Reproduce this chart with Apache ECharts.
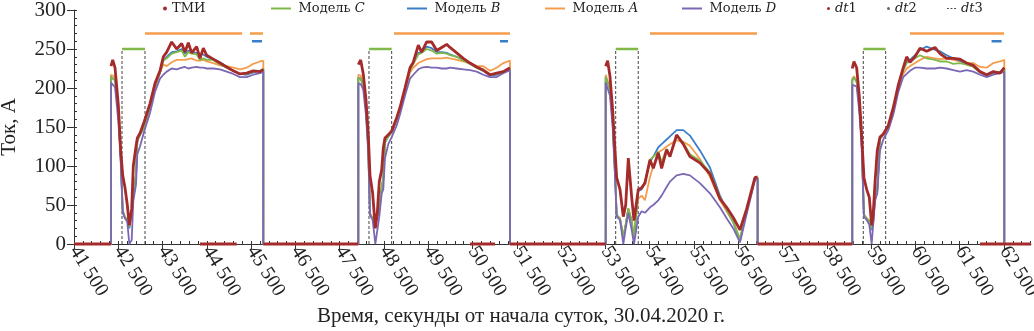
<!DOCTYPE html>
<html lang="ru">
<head>
<meta charset="UTF-8">
<title>Ток, А</title>
<script src="https://cdn.jsdelivr.net/npm/echarts@6/dist/echarts.min.js"></script>
<style>
    html, body { margin: 0; padding: 0; background: #fff; }
    #charts { width: 1034px; height: 331px; }
</style>
</head>
<body>
<div id="charts"></div>
<script>
    // время, с от начала суток (только внутри сеансов)
    var time = [
        42335, 42374, 42426, 42501, 42555, 42600, 42652, 42704, 42749, 42803, 42839, 42900, 42930, 42990, 43087, 43216, 43329, 43442, 43517, 43593,
        43706, 43819, 43932, 44006, 44081, 44157, 44270, 44345, 44420, 44496, 44646, 44797, 44948, 45098, 45248, 45399, 45549, 45700, 45775,
        47920, 47974, 48032, 48093, 48145, 48184, 48244, 48304, 48349, 48394, 48448, 48484, 48522, 48597, 48674, 48787, 48861, 48974, 49087, 49162,
        49275, 49350, 49464, 49577, 49690, 49803, 49916, 49990, 50141, 50291, 50442, 50593, 50742, 50893, 51044, 51194, 51345,
        53506, 53550, 53603, 53663, 53716, 53754, 53829, 53904, 53958, 54017, 54093, 54145, 54242, 54318, 54393, 54506, 54581, 54694, 54769, 54882,
        54957, 55108, 55258, 55408, 55634, 55860, 56086, 56237, 56387, 56538, 56689, 56876, 56937,
        59074, 59112, 59173, 59232, 59286, 59338, 59399, 59458, 59512, 59548, 59587, 59639, 59700, 59775, 59888, 60001, 60114, 60226, 60302, 60377,
        60490, 60603, 60754, 60942, 61055, 61205, 61356, 61506, 61657, 61807, 61958, 62109, 62259, 62410, 62507
    ];
    var tmi = [
        228, 236, 226, 178, 120, 88, 72, 50, 24, 45, 100, 125, 136, 142, 157, 180, 206, 222, 240, 246,
        259, 250, 257, 246, 258, 245, 253, 238, 251, 242, 237, 232, 227, 222, 218, 219, 222, 221, 224,
        230, 236, 218, 185, 140, 88, 65, 20, 40, 80, 95, 123, 136, 140, 145, 162, 175, 200, 226, 233,
        255, 246, 259, 259, 248, 252, 256, 252, 245, 238, 232, 227, 223, 217, 219, 221, 226,
        228, 235, 215, 172, 120, 85, 70, 35, 50, 110, 60, 30, 70, 72, 78, 108, 97, 117, 97, 121,
        112, 140, 128, 112, 104, 90, 58, 47, 34, 18, 45, 85, 86,
        225, 234, 226, 190, 140, 85, 70, 60, 24, 40, 78, 120, 137, 141, 152, 175, 204, 226, 240, 233,
        240, 251, 247, 252, 244, 238, 238, 237, 232, 229, 221, 217, 221, 219, 226
    ];
    var modelA = [
        217, 218, 214, 172, 112, 45, 34, 32, 22, 40, 62, 88, 135, 140, 152, 175, 200, 220, 230, 228,
        233, 236, 236, 236, 237, 238, 235, 235, 236, 234, 232, 229, 228, 226, 224, 226, 231, 234, 235,
        217, 216, 205, 175, 125, 40, 33, 25, 35, 45, 72, 85, 132, 139, 144, 160, 172, 196, 220, 226,
        232, 234, 237, 238, 238, 238, 239, 238, 236, 234, 232, 228, 228, 222, 226, 232, 235,
        217, 216, 200, 160, 95, 38, 33, 10, 25, 45, 30, 8, 58, 62, 56, 86, 100, 118, 120, 125,
        128, 133, 131, 126, 109, 86, 56, 42, 28, 6, 42, 84, 85,
        212, 215, 210, 180, 132, 38, 33, 30, 20, 30, 60, 70, 136, 140, 150, 170, 198, 218, 225, 228,
        232, 236, 240, 238, 237, 238, 236, 234, 232, 232, 227, 226, 232, 234, 236
    ];
    var modelB = [
        214, 215, 210, 170, 110, 42, 33, 31, 20, 40, 62, 88, 132, 140, 150, 176, 202, 220, 236, 240,
        246, 247, 250, 244, 248, 246, 245, 243, 243, 240, 237, 233, 227, 222, 218, 217, 220, 222, 224,
        213, 212, 203, 173, 122, 38, 32, 24, 35, 44, 72, 84, 130, 138, 143, 160, 174, 199, 224, 232,
        245, 246, 253, 251, 246, 246, 245, 243, 240, 236, 231, 226, 222, 216, 217, 220, 223,
        214, 213, 198, 158, 92, 36, 32, 8, 24, 45, 28, 6, 68, 70, 80, 105, 112, 124, 128, 134,
        138, 146, 146, 139, 120, 98, 62, 44, 28, 4, 43, 83, 84,
        210, 213, 208, 178, 131, 36, 32, 29, 18, 28, 58, 68, 135, 140, 151, 173, 202, 224, 233, 236,
        242, 249, 253, 249, 247, 242, 238, 235, 231, 228, 220, 216, 219, 220, 224
    ];
    var modelC = [
        214, 215, 210, 170, 110, 42, 34, 32, 22, 40, 63, 90, 133, 140, 150, 176, 202, 220, 235, 238,
        244, 246, 248, 240, 246, 244, 243, 236, 238, 236, 236, 230, 226, 222, 218, 218, 221, 222, 224,
        213, 212, 203, 173, 122, 38, 33, 25, 36, 45, 73, 85, 130, 138, 143, 160, 174, 199, 223, 231,
        243, 245, 250, 248, 244, 245, 244, 242, 240, 235, 231, 226, 222, 217, 218, 220, 224,
        214, 213, 198, 158, 92, 36, 33, 10, 25, 46, 30, 8, 70, 72, 80, 108, 112, 118, 105, 122,
        112, 138, 130, 115, 107, 92, 60, 44, 28, 6, 44, 84, 85,
        210, 213, 208, 178, 131, 37, 33, 30, 20, 30, 60, 70, 135, 140, 151, 173, 202, 223, 232, 234,
        238, 242, 238, 236, 234, 234, 231, 232, 230, 227, 220, 217, 220, 221, 224
    ];
    var modelD = [
        207, 208, 201, 158, 105, 40, 33, 28, 0, 5, 55, 76, 115, 125, 145, 168, 195, 212, 217, 221,
        225, 224, 226, 227, 225, 226, 227, 226, 226, 225, 225, 224, 221, 218, 214, 214, 217, 219, 221,
        206, 205, 198, 165, 118, 37, 31, 0, 2, 35, 65, 70, 110, 128, 137, 152, 166, 190, 212, 217,
        224, 226, 227, 226, 226, 225, 225, 226, 225, 224, 223, 221, 217, 214, 214, 219, 223,
        207, 206, 190, 150, 88, 35, 31, 0, 20, 40, 18, 0, 35, 42, 40, 47, 50, 56, 62, 73,
        80, 88, 90, 88, 78, 65, 47, 33, 20, 2, 38, 82, 84,
        204, 206, 202, 170, 125, 35, 31, 25, 0, 0, 55, 65, 120, 134, 146, 166, 195, 214, 218, 222,
        226, 226, 225, 225, 226, 225, 223, 221, 223, 221, 217, 214, 217, 219, 221
    ];

    // начало и конец сеансов
    var riseTimes = [42335, 47920, 53506, 59074];
    var fallTimes = [45775, 51345, 56937, 62507];

    // интервалы (отметки сверху и пунктиры)
    var windowC = [[42584, 43103], [48161, 48673], [53732, 54241], [59323, 59828]];
    var windowA = [[43103, 45296], [45474, 45768], [48726, 51345], [54506, 56922], [60377, 62500]];
    var windowB = [[45520, 45745], [51120, 51300], [62220, 62446]];
    var dt1Marks = [[44345, 45173], [50442, 51006], [61958, 62507]];
    var levelC = 250, levelA = 270, levelB = 260;

    var xMin = 41500, xMax = 63110;

    var font = 'Liberation Serif';
    var legendFont = 'DejaVu Serif';
    var colorTmi = '#a52b2b', colorA = '#f59d4c', colorB = '#3b7ec8', colorC = '#80b94a', colorD = '#7b67b5';

    function modelSeriesData(vals) {
        var out = [[xMin, 0]];
        riseTimes.forEach(function (r, k) {
            out.push([r, 0]);
            time.forEach(function (t, i) {
                if (t >= r && t <= fallTimes[k]) out.push([t, vals[i]]);
            });
            out.push([fallTimes[k], 0]);
        });
        out.push([xMax, 0]);
        return out;
    }

    // у ТМИ нет вертикальных перепадов
    function tmiSeriesData(vals) {
        var out = [[xMin, 0]];
        riseTimes.forEach(function (r, k) {
            out.push([r, 0], [r, '-']);
            time.forEach(function (t, i) {
                if (t >= r && t <= fallTimes[k]) out.push([t, vals[i]]);
            });
            out.push([fallTimes[k], '-'], [fallTimes[k], 0]);
        });
        out.push([xMax, 0]);
        return out;
    }

    function barData(list, level) {
        var out = [];
        list.forEach(function (w) {
            out.push([w[0], level], [w[1], level], [w[1], '-']);
        });
        return out;
    }

    function edgeData(list, level) {
        var out = [];
        list.forEach(function (w) {
            out.push([w[0], 0], [w[0], level], [w[0], '-'], [w[1], 0], [w[1], level], [w[1], '-']);
        });
        return out;
    }

    var majorX = [];
    for (var v = xMin; v <= 62500; v += 1000) majorX.push(v);
    var minorX = [];
    for (var m = xMin; m <= xMax; m += 200) minorX.push(m);
    var minorY = [];
    for (var n = 0; n <= 300; n += 10) minorY.push(n);

    function line(name, data, color, width, z, extra) {
        var s = {
            name: name, type: 'line', data: data, symbol: 'none', clip: false, z: z,
            lineStyle: { color: color, width: width }, itemStyle: { color: color },
            connectNulls: false, animation: false
        };
        for (var key in extra) s[key] = extra[key];
        return s;
    }

    var legendText = {
        fontFamily: legendFont, fontSize: 13, color: '#222',
        rich: { i: { fontFamily: legendFont, fontSize: 13, fontStyle: 'italic', color: '#222' } }
    };
    function legendLabel(name) {
        if (name.indexOf('Модель ') === 0) return 'Модель {i|' + name.slice(7) + '}';
        if (name.indexOf('dt') === 0) return '{i|dt}' + name.slice(2);
        return name;
    }
    function legendItem(name, left, w, h, icon) {
        return {
            top: 2, left: left, padding: 0, itemWidth: w, itemHeight: h, selectedMode: false,
            data: [{ name: name, icon: icon }], textStyle: legendText, formatter: legendLabel
        };
    }
    var lineIcon = 'path://M0,0H10V1H0Z';
    var dashIcon = 'path://M0,0H2V1H0ZM4,0H6V1H4ZM8,0H10V1H8Z';

    var option = {
        backgroundColor: '#fff',
        animation: false,
        grid: { left: 74, right: 3, top: 10, bottom: 87, outerBoundsMode: 'none', containLabel: false },
        legend: [
            legendItem('ТМИ', 163, 4, 4, 'circle'),
            legendItem('Модель C', 271, 25, 2, lineIcon),
            legendItem('Модель B', 407, 25, 2, lineIcon),
            legendItem('Модель A', 545, 25, 2, lineIcon),
            legendItem('Модель D', 682, 25, 2, lineIcon),
            legendItem('dt1', 827, 3, 3, 'circle'),
            legendItem('dt2', 887, 3, 3, 'circle'),
            legendItem('dt3', 947, 9, 1.5, dashIcon)
        ],
        xAxis: [{
            type: 'value', min: xMin, max: xMax, position: 'bottom',
            axisLine: { onZero: false, lineStyle: { color: '#333', width: 1 } },
            axisTick: { customValues: majorX, length: 5, lineStyle: { color: '#333' } },
            axisLabel: {
                customValues: majorX, rotate: -58, margin: 4,
                fontFamily: font, fontSize: 20, color: '#222',
                formatter: function (val) {
                    var s = String(val);
                    return s.slice(0, -3) + ' ' + s.slice(-3);
                }
            },
            splitLine: { show: false }
        }, {
            type: 'value', min: xMin, max: xMax, position: 'bottom',
            axisLine: { show: false, onZero: false },
            axisTick: { customValues: minorX, inside: true, length: 3, lineStyle: { color: '#333' } },
            axisLabel: { show: false },
            splitLine: { show: false }
        }],
        yAxis: [{
            type: 'value', min: 0, max: 300, interval: 50, position: 'left',
            name: 'Ток, А', nameLocation: 'middle', nameGap: 54,
            nameTextStyle: { fontFamily: font, fontSize: 21, color: '#222' },
            axisLine: { show: true, onZero: false, lineStyle: { color: '#333', width: 1 } },
            axisTick: { show: true, length: 7, lineStyle: { color: '#333' } },
            axisLabel: { margin: 8, fontFamily: font, fontSize: 21, color: '#222' },
            splitLine: { show: false }
        }, {
            type: 'value', min: 0, max: 300, position: 'left',
            axisLine: { show: false, onZero: false },
            axisTick: { customValues: minorY, inside: true, length: 3, lineStyle: { color: '#333' } },
            axisLabel: { show: false },
            splitLine: { show: false }
        }],
        graphic: [{
            type: 'text', x: 521, y: 316,
            style: {
                text: 'Время, секунды от начала суток, 30.04.2020 г.',
                font: '21px "Liberation Serif"', fill: '#222',
                align: 'center', verticalAlign: 'middle', textAlign: 'center', textVerticalAlign: 'middle'
            }
        }],
        series: [
            line('dt3', edgeData(windowC, levelC), '#444', 1, 2, { lineStyle: { color: '#444', width: 1, type: [3, 2] } }),
            line('окноC', barData(windowC, levelC), colorC, 2.5, 2),
            line('окноA', barData(windowA, levelA), colorA, 2.5, 2),
            line('окноB', barData(windowB, levelB), colorB, 2.5, 2),
            line('Модель A', modelSeriesData(modelA), colorA, 1.8, 3),
            line('Модель B', modelSeriesData(modelB), colorB, 1.8, 3),
            line('Модель C', modelSeriesData(modelC), colorC, 1.8, 3),
            line('Модель D', modelSeriesData(modelD), colorD, 1.8, 4),
            line('ТМИ', tmiSeriesData(tmi), colorTmi, 2.8, 5),
            line('dt1', barData(dt1Marks, 0), colorTmi, 2.8, 5),
            line('dt2', [], '#666', 1, 5)
        ]
    };

    var myChart = echarts.init(document.getElementById('charts'), null, { renderer: 'canvas' });
    myChart.setOption(option);
</script>
</body>
</html>
